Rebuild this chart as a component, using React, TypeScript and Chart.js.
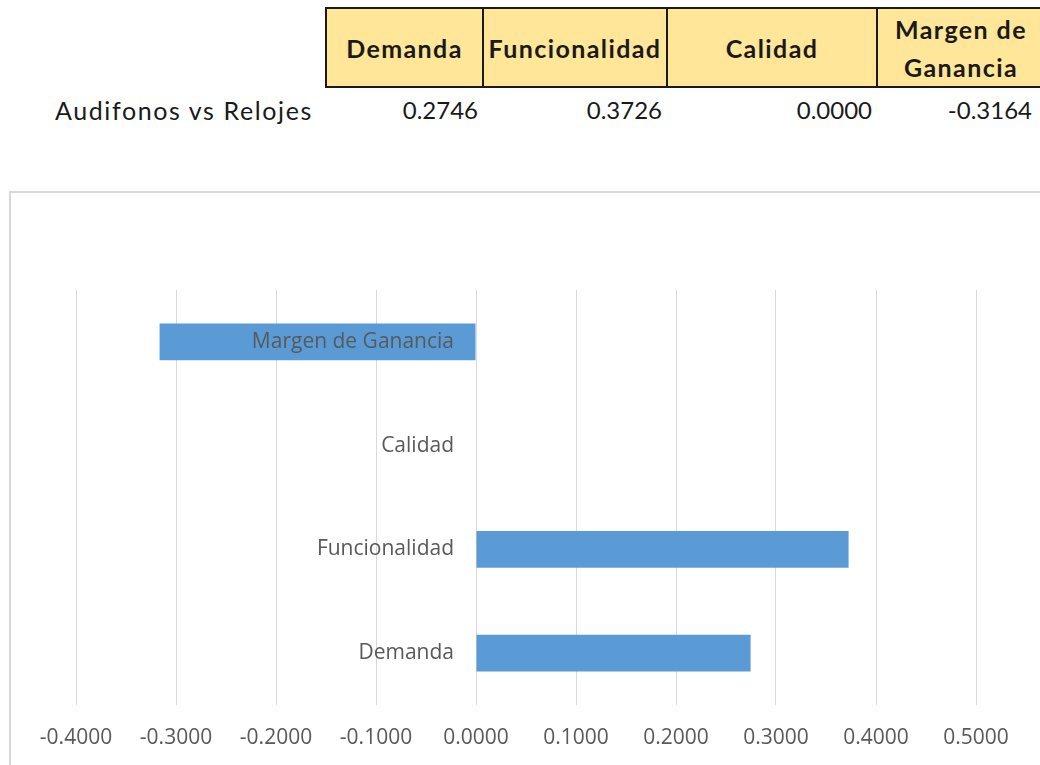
import React, { useEffect, useRef } from 'react';
import { Chart, registerables } from 'chart.js';

Chart.register(...registerables);

// Factors compared, bottom to top in the chart
const categories = ['Demanda', 'Funcionalidad', 'Calidad', 'Margen de Ganancia'];
// Difference score per factor: Audifonos vs Relojes
const scores = [0.2746, 0.3726, 0.0, -0.3164];
const rowLabel = 'Audifonos vs Relojes';
const tableHeaders = ['Demanda', 'Funcionalidad', 'Calidad', 'Margen de\nGanancia'];
const axisMin = -0.4;
const axisMax = 0.5;
const axisStep = 0.1;

const BAR_COLOR = '#5B9BD5';
const GRID_COLOR = '#D9D9D9';
const TEXT_GRAY = '#595959';
const CHART_FONT = '"Open Sans", "DejaVu Sans", sans-serif';
const TABLE_FONT = 'Lato, "Open Sans", sans-serif';

// Category names are drawn just left of the zero line, like an axis crossing at 0
const zeroLabels = {
  id: 'zeroLabels',
  afterDatasetsDraw(chart: any) {
    const { ctx } = chart;
    const xs = chart.scales.x;
    const ys = chart.scales.y;
    const x0 = xs.getPixelForValue(0);
    ctx.save();
    ctx.font = `21px ${CHART_FONT}`;
    ctx.fillStyle = TEXT_GRAY;
    ctx.textAlign = 'right';
    ctx.textBaseline = 'middle';
    categories.forEach((name, i) => {
      ctx.fillText(name, x0 - 22, ys.getPixelForValue(i));
    });
    ctx.restore();
  },
};

function BarChart() {
  const ref = useRef<HTMLCanvasElement | null>(null);
  useEffect(() => {
    if (!ref.current) return;
    const chart = new Chart(ref.current, {
      type: 'bar',
      data: {
        labels: categories,
        datasets: [
          {
            data: scores,
            backgroundColor: BAR_COLOR,
            borderWidth: 0,
            categoryPercentage: 1,
            barPercentage: 0.355,
          },
        ],
      },
      options: {
        indexAxis: 'y',
        animation: false,
        responsive: false,
        maintainAspectRatio: false,
        layout: { padding: { left: 65, right: 75, top: 97, bottom: 0 } },
        plugins: {
          legend: { display: false },
          tooltip: { enabled: false },
          title: { display: false },
        },
        scales: {
          x: {
            type: 'linear',
            min: axisMin,
            max: axisMax,
            afterFit: (s: any) => {
              s.height = 60;
            },
            ticks: {
              stepSize: axisStep,
              padding: 20,
              color: TEXT_GRAY,
              font: { family: CHART_FONT, size: 21 },
              callback: (v: any) => Number(v).toFixed(4),
            },
            grid: { color: GRID_COLOR, lineWidth: 1, drawTicks: false },
            border: { display: false },
          },
          y: {
            type: 'category',
            reverse: true,
            display: false,
            grid: { display: false },
          },
        },
      },
      plugins: [zeroLabels],
    });
    return () => chart.destroy();
  }, []);
  return <canvas ref={ref} width={1040} height={572} style={{ display: 'block' }} />;
}

const colEdges = [325, 484, 668, 878, 1046];

export default function App() {
  useEffect(() => {
    document.body.style.margin = '0';
  }, []);
  return (
    <div
      style={{
        position: 'fixed',
        left: 0,
        top: 0,
        width: 1040,
        height: 765,
        overflow: 'hidden',
        background: '#fff',
      }}
    >
      {tableHeaders.map((h, i) => (
        <div
          key={'h' + i}
          style={{
            position: 'absolute',
            left: colEdges[i],
            top: 7,
            width: colEdges[i + 1] - colEdges[i],
            height: 81,
            boxSizing: 'border-box',
            border: '2px solid #1a1a1a',
            borderLeftWidth: i === 0 ? 2 : 0,
            background: '#FFE699',
            display: 'flex',
            alignItems: 'center',
            justifyContent: 'center',
            textAlign: 'center',
            whiteSpace: 'pre-line',
            font: `bold 25px/38px ${TABLE_FONT}`,
            letterSpacing: '1.4px',
            color: '#1a1a1a',
          }}
        >
          {h}
        </div>
      ))}
      <div
        style={{
          position: 'absolute',
          left: 55,
          top: 94,
          font: `25px/32px ${TABLE_FONT}`,
          letterSpacing: '1.6px',
          color: '#1a1a1a',
        }}
      >
        {rowLabel}
      </div>
      {scores.map((v, i) => (
        <div
          key={'v' + i}
          style={{
            position: 'absolute',
            left: colEdges[i],
            width: colEdges[i + 1] - colEdges[i] - (i === 3 ? 14 : 6),
            top: 94,
            textAlign: 'right',
            font: `24px/32px ${TABLE_FONT}`,
            color: '#1a1a1a',
          }}
        >
          {v.toFixed(4)}
        </div>
      ))}
      <div
        style={{
          position: 'absolute',
          left: 9,
          top: 191,
          width: 1060,
          height: 600,
          border: '2px solid #D9D9D9',
          boxSizing: 'border-box',
        }}
      />
      <div style={{ position: 'absolute', left: 11, top: 193 }}>
        <BarChart />
      </div>
    </div>
  );
}
